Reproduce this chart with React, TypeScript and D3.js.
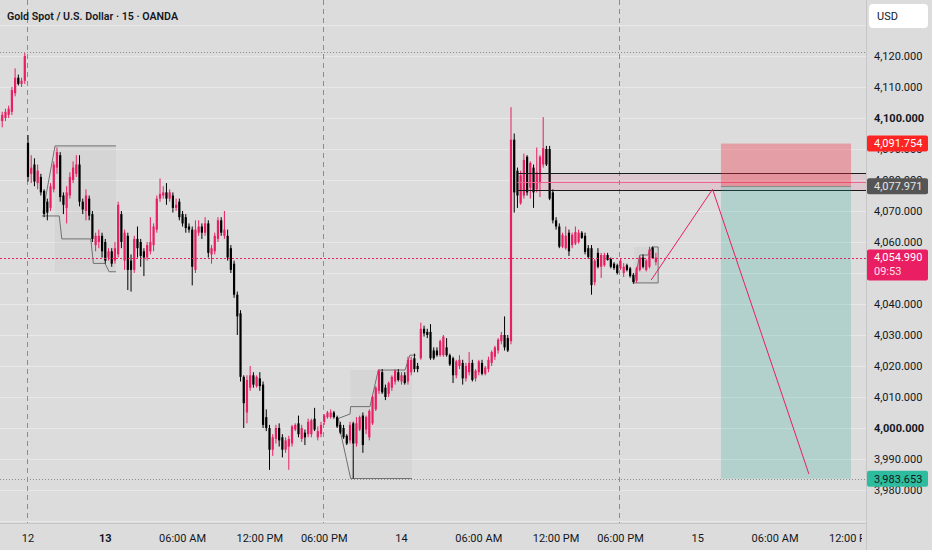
import React from 'react';
import * as d3 from 'd3';

// 15m bars of XAUUSD. Index 0 is the 06:00 PM session open, first bar in the list is index -9
const firstBar = -9;
const ohlc: [number, number, number, number][] = [
  [4099, 4101, 4097, 4100], [4099, 4102, 4097, 4101], [4100, 4103, 4099, 4102], [4101, 4104, 4100, 4103],
  [4102, 4110, 4101, 4109], [4108, 4116, 4107, 4113], [4113, 4114, 4110.5, 4111], [4111, 4113, 4110, 4112],
  [4112, 4121, 4111, 4120],
  // session 1
  [4092, 4094.5, 4079.5, 4081], [4082, 4088, 4079, 4084], [4085, 4087, 4078, 4079.5], [4079, 4085, 4077, 4083],
  [4081, 4082, 4075, 4076], [4076.5, 4077, 4068, 4069], [4073, 4074, 4067, 4069.5], [4071, 4079, 4070, 4078],
  [4077, 4086, 4076, 4085], [4084, 4090.5, 4082, 4089], [4088, 4089, 4073, 4074.5], [4075, 4076, 4069, 4072],
  [4071, 4078, 4066, 4076], [4075, 4082.5, 4074, 4081], [4080, 4086, 4079, 4084], [4082, 4088, 4081, 4085],
  [4085, 4088, 4071.5, 4073], [4073, 4074, 4069, 4070.5], [4070, 4077, 4067, 4075], [4074, 4075, 4067, 4068.5],
  [4069, 4070, 4060, 4061], [4059, 4063, 4057, 4062], [4060, 4064, 4058, 4062], [4062, 4063, 4055, 4057],
  [4060, 4061, 4053, 4054], [4055, 4058, 4054, 4057], [4057, 4058, 4052, 4053], [4054, 4060, 4053, 4058],
  [4056, 4073, 4055, 4072], [4069, 4070, 4058, 4060], [4054, 4064, 4051, 4063], [4062, 4063, 4044.5, 4051],
  [4054, 4056, 4044, 4051], [4051, 4062, 4050, 4061], [4061, 4065, 4055, 4058], [4060, 4061, 4052, 4055.5],
  [4057, 4058, 4049, 4055], [4055, 4060, 4054, 4059], [4057, 4068, 4056, 4060], [4059, 4066, 4057, 4065],
  [4064, 4075, 4063, 4074], [4074, 4080.5, 4073, 4075.5], [4075, 4078, 4074, 4076], [4076, 4079, 4072, 4074],
  [4074, 4077, 4073, 4076], [4075, 4076, 4069.5, 4071], [4071, 4074, 4070, 4072], [4073, 4074, 4067, 4068],
  [4069, 4070, 4065, 4066], [4068, 4069, 4063, 4064.5], [4065, 4066, 4063, 4064], [4064, 4065, 4046, 4052],
  [4051, 4067, 4050, 4064], [4063, 4067, 4062, 4065], [4065, 4066, 4061, 4063], [4063, 4068, 4062, 4066],
  [4066, 4067, 4055, 4056.5], [4056, 4059, 4053, 4058], [4057, 4063, 4056, 4062], [4061, 4068, 4060, 4067],
  [4067, 4068, 4062, 4063], [4062, 4070, 4061, 4064], [4062, 4064, 4054, 4055], [4058, 4059, 4050, 4051],
  [4053, 4054, 4042, 4043], [4043, 4044, 4030, 4036], [4037, 4038, 4015, 4016.5], [4016.5, 4017, 4000, 4008],
  [4005, 4017, 4001.5, 4015.5], [4013, 4020, 4012, 4017], [4017, 4018, 4013, 4014], [4013.5, 4017, 4013, 4016.5],
  [4016, 4018, 4012, 4013.5], [4014, 4015, 4000, 4001], [4003.5, 4006, 3999, 4000], [4000, 4001, 3986.5, 3993],
  [3993, 3998, 3991, 3997], [3996.5, 4001, 3995, 4000], [4000, 4001.5, 3994, 3996], [3997, 3998, 3990.5, 3993],
  [3993, 3997, 3992, 3996], [3994, 3997.5, 3986.5, 3996.5], [3995, 4001, 3994, 4000.5], [3999.5, 4001.5, 3999, 4001],
  [4001.5, 4004, 3997, 3998], [3996.5, 4001, 3995.5, 4000], [3998.5, 3999.5, 3994.5, 3997], [3998, 4003, 3997, 4002],
  [3998, 4003, 3997, 4002.5], [4003, 4006.5, 3999, 3999.5], [3997, 4000.5, 3996, 3999], [3998, 4002, 3997, 4001],
  // session 2
  [4002, 4004.5, 4001, 4004], [4003.5, 4005.5, 4003, 4005], [4003.5, 4006, 4003, 4005], [4005, 4005.5, 4003, 4003.5],
  [4003.5, 4004, 4000, 4000.5], [4001, 4002, 3998, 3998.5], [4000, 4001, 3996.5, 3997], [3997.5, 3998, 3994.5, 3995],
  [3996, 4002, 3995, 4001], [4001.5, 4002, 3983.7, 3995], [3995, 4003.5, 3994, 4001.5], [3999.5, 4004, 3999, 4003.5],
  [4004, 4005, 3992, 3994.5], [3999.5, 4004, 3998, 4003.5], [3997, 4006, 3996, 4005.5], [4001.5, 4010.5, 4001, 4010],
  [4006, 4013.5, 4005.5, 4013], [4012, 4019, 4011, 4018.5], [4018, 4019, 4011, 4011.5], [4013, 4014, 4009, 4010],
  [4011, 4015, 4010, 4014.5], [4013, 4017, 4012, 4016.5], [4015, 4019, 4014, 4018.5], [4018, 4019, 4015, 4015.5],
  [4015, 4018, 4014, 4017], [4017, 4018, 4014, 4014.5], [4015, 4023, 4014, 4022], [4018, 4023, 4017, 4022],
  [4022.5, 4024, 4018, 4019], [4020, 4021, 4018, 4019], [4022.5, 4034, 4022, 4032], [4032, 4033, 4029.5, 4030.5],
  [4031, 4032, 4029, 4030], [4031, 4033.5, 4022, 4022.5], [4025, 4026, 4022, 4022.5], [4025, 4026, 4023, 4023.5],
  [4023.5, 4028.5, 4023, 4028], [4023.5, 4030, 4023, 4029.5], [4026, 4029, 4023, 4023.5], [4023.5, 4024, 4020, 4020.5],
  [4022.5, 4023, 4014.5, 4017], [4017, 4022, 4016, 4021.5], [4020, 4023.5, 4019, 4022], [4021, 4022, 4014, 4016],
  [4016, 4021, 4015, 4020], [4018, 4024.5, 4017, 4021], [4021, 4022, 4015, 4015.5], [4016, 4019, 4015, 4018.5],
  [4018, 4022, 4017, 4021.5], [4021, 4022, 4017, 4017.5], [4017.5, 4020, 4017, 4019.5], [4019, 4023, 4018, 4022],
  [4021, 4025, 4020, 4024.5], [4023, 4026.5, 4022, 4026], [4025, 4029, 4024, 4028.5], [4028, 4031, 4027, 4030],
  [4030, 4036, 4025, 4026], [4029, 4030, 4024.5, 4025], [4028, 4103.5, 4027, 4093], [4093, 4095, 4069.5, 4076],
  [4083, 4084, 4071, 4075], [4072.5, 4083, 4072, 4081.5], [4075, 4088.5, 4074, 4086.5], [4087.5, 4088, 4075, 4076],
  [4077.5, 4086, 4074, 4085.5], [4084, 4085, 4071, 4076], [4077, 4090.5, 4076, 4082.5], [4079, 4088, 4074.5, 4087.5],
  [4085, 4100.3, 4084, 4090.3], [4090, 4091, 4084.5, 4085], [4090, 4091, 4073.5, 4074], [4076, 4077, 4066, 4067],
  [4067, 4068, 4064, 4065], [4065, 4066, 4058, 4058.5], [4058.5, 4063, 4058, 4062.3], [4058, 4065, 4057.5, 4062],
  [4063, 4064, 4055.5, 4057], [4059, 4063, 4058, 4062.3], [4059.5, 4065, 4059, 4063.2], [4060, 4064, 4059.5, 4063],
  [4063, 4063.5, 4061, 4061.3], [4062, 4063, 4056, 4056.8], [4058, 4059, 4054.5, 4055.2], [4058, 4059, 4043, 4046.1],
  [4047, 4054.5, 4046, 4054], [4056.5, 4058, 4051.5, 4052], [4052, 4056.5, 4048.4, 4055.8], [4052.5, 4056.5, 4052, 4055.8],
  [4055.8, 4056.5, 4054, 4054.2], [4054.5, 4055, 4051.5, 4052], [4053, 4053.5, 4051, 4051.6], [4052.5, 4053, 4049.5, 4050],
  // session 3
  [4051.5, 4054.5, 4051, 4054], [4050, 4053.2, 4048.7, 4052], [4052.5, 4053, 4050.5, 4051], [4051.5, 4052, 4048.5, 4049],
  [4049.4, 4050, 4046.5, 4047.1], [4047.5, 4052, 4046.8, 4051.5], [4051, 4055.5, 4050.5, 4055], [4055, 4056, 4051.5, 4052],
  [4051, 4054.5, 4050.5, 4054], [4052, 4058.5, 4051.5, 4057.5], [4058.2, 4058.5, 4054.5, 4054.8], [4053.5, 4056.5, 4052.5, 4054.99],
];

const sessionStarts = [0, 92, 184];
const timeTicks = [
  { bar: 0, label: '12', bold: false }, { bar: 24, label: '13', bold: true },
  { bar: 48, label: '06:00 AM', bold: false }, { bar: 72, label: '12:00 PM', bold: false },
  { bar: 92, label: '06:00 PM', bold: false }, { bar: 116, label: '14', bold: false },
  { bar: 140, label: '06:00 AM', bold: false }, { bar: 164, label: '12:00 PM', bold: false },
  { bar: 184, label: '06:00 PM', bold: false }, { bar: 208, label: '15', bold: false },
  { bar: 232, label: '06:00 AM', bold: false }, { bar: 256, label: '12:00 PM', bold: false },
];
// 4,050.000 sits fully under the last-price badge, so it is left out of the labels
const priceLabels = [3980, 3990, 4000, 4010, 4020, 4030, 4040, 4060, 4070, 4080, 4090, 4100, 4110, 4120];
const gridTicks = [3970, 3980, 3990, 4000, 4010, 4020, 4030, 4040, 4050, 4060, 4070, 4080, 4090, 4100, 4110, 4120, 4130];
const boldTicks = [4000, 4100];

const sessionHigh = 4121.3;
const lastPrice = 4054.99;
const countdown = '09:53';

// long/short position tool
const stopPrice = 4091.754;
const entryPrice = 4077.971;
const targetPrice = 3983.653;
const positionBars = [215.2, 255.6];

// horizontal zone drawn from the spike
const zoneStartBar = 152;
const zoneEdges = [4082.3, 4076.8];
const zoneMid = 4079.4;

// projected path
const projection: [number, number][] = [[193.5, 4047.7], [212.6, 4077.0], [242.5, 3985.2]];

// step-line boxes
const stepBoxes = [
  {
    top: [[4.6, 4069.4], [8.4, 4091], [27.3, 4091]],
    bottom: [[4.3, 4068.4], [9.7, 4068.4], [10.5, 4061], [19.5, 4061], [20.3, 4053.1], [23.9, 4053.1], [25.2, 4050.4], [27.3, 4050.4]],
    shade: [8.4, 27.3, 4050.4, 4091],
  },
  {
    top: [[96.4, 4003.1], [100, 4004.5], [100.2, 4006.9], [106.2, 4006.9], [108.8, 4018.7], [117.1, 4018.7], [118.6, 4023.5], [120.5, 4023.5]],
    bottom: [[96.4, 4003.1], [96.9, 3999.4], [100.2, 3983.7], [119.2, 3983.7]],
    shade: [100.2, 119.2, 3983.7, 4018.7],
  },
  {
    top: [[188.2, 4046.8], [190, 4055.8], [192.5, 4055.8], [193.8, 4058.4], [195.7, 4058.4], [195.7, 4046.8]],
    bottom: [[188.2, 4046.8], [195.7, 4046.8]],
    shade: [188.2, 195.7, 4046.8, 4058.4],
  },
];

const W = 932;
const H = 550;
const PLOT_R = 866;
const PLOT_B = 523;
const UP = '#e91e63';
const DOWN = '#000000';
const TEXT = '#131722';
const FONT = 'Roboto, "Noto Sans", sans-serif';

export default function App() {
  const x = d3.scaleLinear().domain([0, 100]).range([28, 350]);
  const y = d3.scaleLinear().domain([3980, 4120]).range([490, 56]);
  const fmt = d3.format(',.3f');
  const bw = 2.2;
  const line = d3.line<number[]>().x((d) => x(d[0])).y((d) => y(d[1]));
  // snap 1px horizontal lines to the pixel grid
  const py = (v: number) => Math.round(y(v)) + 0.5;

  return (
    <svg width={W} height={H} style={{ position: 'absolute', left: 0, top: 0, fontFamily: FONT }}>
      <defs>
        <clipPath id="plot"><rect x={0} y={0} width={PLOT_R} height={PLOT_B} /></clipPath>
        <clipPath id="timeaxis"><rect x={0} y={PLOT_B} width={862} height={H - PLOT_B} /></clipPath>
      </defs>
      <rect x={0} y={0} width={W} height={H} fill="#dcdcdc" />

      <g clipPath="url(#plot)">
        {gridTicks.map((t) => (
          <line key={t} x1={0} x2={PLOT_R} y1={py(t)} y2={py(t)} stroke="#e8e8e8" strokeWidth={1} />
        ))}
        {sessionStarts.map((b) => (
          <line key={b} x1={Math.round(x(b)) - 0.5} x2={Math.round(x(b)) - 0.5} y1={0} y2={PLOT_B}
            stroke="#8c8c8c" strokeDasharray="5,4" />
        ))}

        {stepBoxes.map((s, k) => (
          <g key={k}>
            <rect x={x(s.shade[0])} width={x(s.shade[1]) - x(s.shade[0])} y={y(s.shade[3])}
              height={y(s.shade[2]) - y(s.shade[3])} fill="rgba(110,110,110,0.06)" />
            <path d={line(s.top) || ''} fill="none" stroke="#707070" strokeWidth={1} />
            <path d={line(s.bottom) || ''} fill="none" stroke="#707070" strokeWidth={1} />
          </g>
        ))}

        {ohlc.map(([o, h, l, c], k) => {
          const i = firstBar + k;
          const col = c >= o ? UP : DOWN;
          const top = y(Math.max(o, c));
          const bh = Math.max(1, Math.abs(y(o) - y(c)));
          return (
            <g key={i}>
              <line x1={x(i)} x2={x(i)} y1={y(h)} y2={y(l)} stroke={col} strokeWidth={1} />
              <rect x={x(i) - bw / 2} y={top} width={bw} height={bh} fill={col} />
            </g>
          );
        })}

        {/* zone */}
        <rect x={x(zoneStartBar)} width={PLOT_R - x(zoneStartBar)} y={py(zoneEdges[0])}
          height={py(zoneEdges[1]) - py(zoneEdges[0])} fill="rgba(233,30,99,0.1)" />
        <line x1={x(zoneStartBar)} x2={PLOT_R} y1={py(zoneMid)} y2={py(zoneMid)} stroke="#f06292" strokeWidth={1} />
        {zoneEdges.map((p) => (
          <line key={p} x1={x(zoneStartBar)} x2={PLOT_R} y1={py(p)} y2={py(p)} stroke="#1a1a1a" strokeWidth={1} />
        ))}

        {/* position tool */}
        <rect x={x(positionBars[0])} width={x(positionBars[1]) - x(positionBars[0])} y={y(stopPrice)}
          height={y(entryPrice) - y(stopPrice)} fill="rgba(242,54,69,0.36)" />
        <rect x={x(positionBars[0])} width={x(positionBars[1]) - x(positionBars[0])} y={y(entryPrice)}
          height={y(targetPrice) - y(entryPrice)} fill="rgba(34,171,148,0.22)" />
        <line x1={x(positionBars[0])} x2={x(positionBars[1])} y1={py(entryPrice)} y2={py(entryPrice)} stroke="#8a8a8a" />

        <path d={line(projection) || ''} fill="none" stroke={UP} strokeWidth={1} />

        <line x1={0} x2={PLOT_R} y1={py(sessionHigh)} y2={py(sessionHigh)} stroke="#8c8c8c" strokeDasharray="1,2" />
        <line x1={0} x2={PLOT_R} y1={py(targetPrice)} y2={py(targetPrice)} stroke="#8c8c8c" strokeDasharray="1,2" />
        <line x1={0} x2={PLOT_R} y1={py(lastPrice)} y2={py(lastPrice)} stroke={UP} strokeDasharray="2,2" />
      </g>

      {/* title */}
      <text x={7} y={20} fontSize={11.5} fontWeight={600} fill={TEXT} textLength={171} lengthAdjust="spacingAndGlyphs">
        Gold Spot / U.S. Dollar · 15 · OANDA
      </text>

      {/* axes frames */}
      <line x1={PLOT_R + 0.5} x2={PLOT_R + 0.5} y1={0} y2={H} stroke="#c6c6c6" />
      <line x1={0} x2={PLOT_R} y1={PLOT_B + 0.5} y2={PLOT_B + 0.5} stroke="#c6c6c6" />

      {/* price axis */}
      {priceLabels.map((t) => (
        <text key={t} x={874} y={y(t)} dy="0.35em" fontSize={11} fill={TEXT}
          fontWeight={boldTicks.includes(t) ? 700 : 400}>
          {fmt(t)}
        </text>
      ))}

      {/* time axis */}
      <g clipPath="url(#timeaxis)">
        {timeTicks.map((t, k) => (
          <text key={k} x={x(t.bar)} y={538} dy="0.35em" textAnchor="middle" fontSize={11} fill={TEXT}
            fontWeight={t.bold ? 700 : 400}>
            {t.label}
          </text>
        ))}
      </g>

      {/* price badges */}
      <rect x={867} y={y(stopPrice) - 8} width={61} height={16} rx={2} fill="#ff2424" />
      <text x={874} y={y(stopPrice)} dy="0.35em" fontSize={11} fill="#ffffff">{fmt(stopPrice)}</text>

      <rect x={867} y={y(entryPrice) - 8} width={61} height={16} rx={2} fill="#555555" />
      <text x={874} y={y(entryPrice)} dy="0.35em" fontSize={11} fill="#e6e6e6">{fmt(entryPrice)}</text>

      <rect x={867} y={y(lastPrice) - 8} width={61} height={31} rx={2} fill={UP} />
      <text x={874} y={y(lastPrice)} dy="0.35em" fontSize={11} fill="#ffffff">{fmt(lastPrice)}</text>
      <text x={874} y={y(lastPrice) + 14} dy="0.35em" fontSize={11} fill="#ffe0ea">{countdown}</text>

      <rect x={867} y={y(targetPrice) - 8} width={61} height={16} rx={2} fill="#2dbd9e" />
      <text x={874} y={y(targetPrice)} dy="0.35em" fontSize={11} fill={TEXT}>{fmt(targetPrice)}</text>

      {/* currency button */}
      <rect x={869} y={4} width={59} height={24} rx={4} fill="#ffffff" />
      <text x={877} y={16} dy="0.35em" fontSize={11} fill={TEXT}>USD</text>
    </svg>
  );
}
